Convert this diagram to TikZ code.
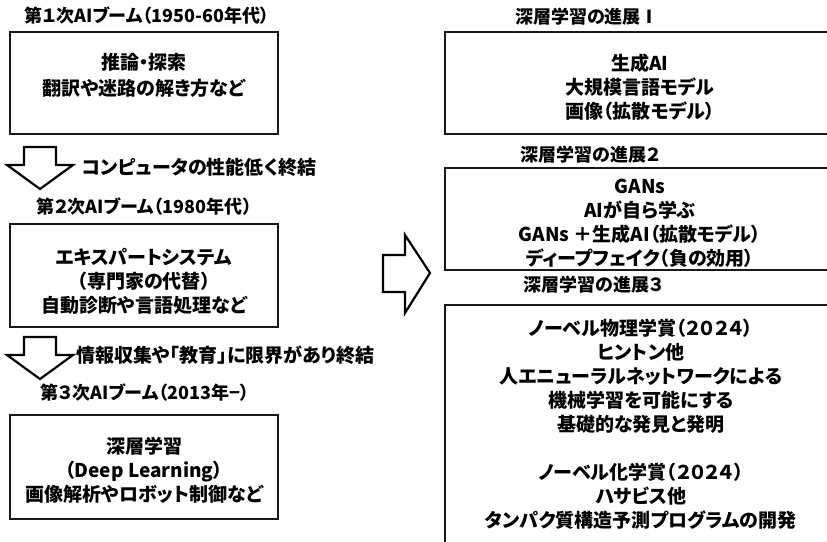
\documentclass[tikz,border=0pt]{standalone}
\usepackage{fontspec}
\setmainfont{Noto Sans CJK JP}[RawFeature=+palt]
\begin{document}
\begin{tikzpicture}[x=1pt,y=-1pt,
  txt/.style={font=\fontsize{19}{24}\selectfont\bfseries, align=center, inner sep=0pt},
  ttl/.style={font=\fontsize{18}{24}\selectfont\bfseries, align=center, inner sep=0pt},
  boxline/.style={line width=2.6pt, draw=black!90},
  blockarrow/.style={line width=2.2pt, draw=black, fill=white, line join=miter}]
\useasboundingbox (0,0) rectangle (827,541);
\clip (0,0) rectangle (827,541);
% left titles
\node[ttl] (t1) at (147,16) {第１次AIブーム（1950-60年代）};
\node[ttl] (t2) at (144,207) {第２次AIブーム（1980年代）};
\node[ttl] (t3) at (145,393) {第３次AIブーム（2013年−）};
% left boxes
\draw[boxline] (10,32) rectangle (278,134);
\node[txt] (b1) at (144,75) {推論・探索\\[2pt]翻訳や迷路の解き方など};
\draw[boxline] (10,224) rectangle (278,327);
\node[txt] (b2) at (144,281) {エキスパートシステム\\（専門家の代替）\\自動診断や言語処理など};
\draw[boxline] (10,415) rectangle (278,519);
\node[txt] (b3) at (144,470) {深層学習\\（Deep Learning）\\画像解析やロボット制御など};
% down arrows
\coordinate (a1) at (40,147);
\draw[blockarrow] (a1) ++(-16,0) -- ++(0,18) -- ++(-17,0) -- ++(33,24) -- ++(33,-24) -- ++(-17,0) -- ++(0,-18) -- cycle;
\node[txt, anchor=west] (a1t) at (82,167) {コンピュータの性能低く終結};
\coordinate (a2) at (40,337);
\draw[blockarrow] (a2) ++(-16,0) -- ++(0,18) -- ++(-17,0) -- ++(33,24) -- ++(33,-24) -- ++(-17,0) -- ++(0,-18) -- cycle;
\node[txt, anchor=west] (a2t) at (76,355) {情報収集や「教育」に限界があり終結};
% right arrow
\coordinate (ra) at (383,255);
\draw[blockarrow] (ra) -- ++(22,0) -- ++(0,-20) -- ++(25,38) -- ++(-25,40) -- ++(0,-21) -- ++(-22,0) -- cycle;
% right titles
\node[ttl] (r1t) at (587,17) {深層学習の進展Ⅰ};
\node[ttl] (r2t) at (590,155) {深層学習の進展２};
\node[ttl] (r3t) at (593,285) {深層学習の進展３};
% right boxes
\draw[boxline] (445,32) rectangle (845,134);
\node[txt] (r1) at (640,87) {生成AI\\大規模言語モデル\\画像（拡散モデル）};
\draw[boxline] (445,168) rectangle (845,270);
\node[txt] (r2) at (640,223) {GANs\\AIが自ら学ぶ\\GANs ＋生成AI（拡散モデル）\\ディープフェイク（負の効用）};
\draw[boxline] (445,305) rectangle (845,560);
\node[txt] (r3) at (641,424.5) {ノーベル物理学賞（２０２４）\\ヒントン他\\人エニューラルネットワークによる\\機械学習を可能にする\\基礎的な発見と発明\\[24pt]ノーベル化学賞（２０２４）\\ハサビス他\\タンパク質構造予測プログラムの開発};
\end{tikzpicture}
\end{document}
